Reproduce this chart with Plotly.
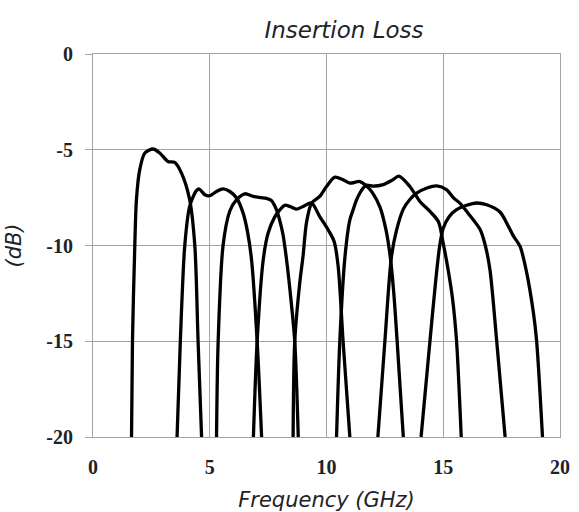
import plotly.graph_objects as go

# Filter 1..8 : frequency (GHz) and insertion loss (dB)
f1_x = [1.65, 1.69, 1.79, 1.86, 2.0, 2.22, 2.57, 2.86, 3.21, 3.5, 3.79, 4.14, 4.36, 4.5, 4.65]
f1_y = [-20, -15, -10, -7.6, -6.05, -5.17, -4.96, -5.17, -5.61, -5.66, -6.22, -7.61, -10, -15, -20]

f2_x = [3.6, 3.74, 3.93, 4.14, 4.43, 4.55, 4.79, 5.0, 5.29, 5.57, 5.86, 6.15, 6.43, 6.62, 6.79, 7.03, 7.22]
f2_y = [-20, -15, -10, -7.96, -7.13, -7.05, -7.35, -7.4, -7.18, -7.04, -7.18, -7.52, -8.31, -9.3, -10.75, -15, -20]

f3_x = [5.29, 5.36, 5.57, 5.86, 6.15, 6.5, 6.86, 7.2, 7.43, 7.64, 7.86, 8.0, 8.14, 8.29, 8.45, 8.64, 8.79]
f3_y = [-20, -15, -10, -8.2, -7.61, -7.3, -7.44, -7.5, -7.54, -7.65, -8.14, -8.7, -9.45, -10.75, -12.5, -15, -20]

f4_x = [6.87, 7.03, 7.29, 7.5, 7.79, 8.0, 8.21, 8.43, 8.71, 9.0, 9.36, 9.71, 10.07, 10.33, 10.5, 10.71, 11.0]
f4_y = [-20, -15, -10.75, -9.35, -8.49, -8.14, -7.9, -7.96, -8.1, -7.96, -7.78, -8.49, -9.18, -9.8, -11.1, -15, -20]

f5_x = [8.57, 8.64, 8.85, 9.0, 9.14, 9.36, 9.71, 10.0, 10.36, 10.71, 11.0, 11.43, 11.72, 12.0, 12.29, 12.55, 12.72, 12.87, 13.02, 13.29]
f5_y = [-20, -15, -12, -10.5, -8.83, -7.79, -7.44, -6.92, -6.43, -6.57, -6.74, -6.66, -6.9, -7.3, -8.0, -9.2, -10.5, -12.3, -14.9, -20]

f6_x = [10.43, 10.57, 10.79, 11.0, 11.14, 11.29, 11.57, 11.72, 12.0, 12.43, 12.8, 13.1, 13.57, 14.0, 14.43, 14.79, 15.0, 15.2, 15.4, 15.57, 15.77]
f6_y = [-20, -15, -10.6, -8.66, -8.14, -7.61, -7.0, -6.85, -6.9, -6.82, -6.6, -6.38, -6.92, -7.7, -8.22, -8.75, -9.9, -11.2, -12.8, -15, -20]

f7_x = [12.2, 12.5, 12.78, 13.0, 13.29, 13.57, 13.86, 14.3, 14.72, 15.15, 15.43, 15.72, 16.15, 16.58, 16.8, 17.0, 17.29, 17.65]
f7_y = [-20, -15, -10.6, -9.2, -8.1, -7.6, -7.27, -7.0, -6.89, -7.1, -7.5, -7.8, -8.45, -9.17, -10.0, -11.27, -15, -20]

f8_x = [14.05, 14.43, 14.68, 14.85, 15.0, 15.25, 15.57, 16.0, 16.43, 16.86, 17.43, 17.79, 18.0, 18.29, 18.57, 18.86, 19.0, 19.25]
f8_y = [-20, -15, -11.8, -10.0, -9.1, -8.5, -8.13, -7.9, -7.78, -7.87, -8.25, -9.0, -9.5, -10.05, -11.4, -13.5, -15, -20]

x_ticks = [0, 5, 10, 15, 20]
y_ticks = [0, -5, -10, -15, -20]

series = [(f1_x, f1_y), (f2_x, f2_y), (f3_x, f3_y), (f4_x, f4_y),
          (f5_x, f5_y), (f6_x, f6_y), (f7_x, f7_y), (f8_x, f8_y)]

GRID = "#a3a3ab"
TXT = "#1e2328"

fig = go.Figure()
for xs, ys in series:
    fig.add_trace(go.Scatter(x=xs, y=ys, mode="lines",
                             line=dict(color="black", width=3.3, shape="spline", smoothing=0.8),
                             showlegend=False, hoverinfo="skip"))

fig.update_layout(
    width=579, height=512,
    margin=dict(l=92.7, r=19, t=54.3, b=75.3),
    paper_bgcolor="white", plot_bgcolor="white",
    title=dict(text="Insertion Loss", x=344 / 579, xanchor="center", y=1 - 30 / 512, yanchor="middle",
               font=dict(family="DejaVu Sans", size=23, color=TXT, style="italic")),
    xaxis=dict(range=[0, 20], tickvals=x_ticks, ticktext=[str(v) for v in x_ticks],
               showgrid=True, gridcolor=GRID, gridwidth=1, zeroline=False,
               showline=True, linecolor=GRID, linewidth=1, mirror=True,
               ticks="", ticklabelstandoff=12, automargin=False,
               tickfont=dict(family="Liberation Serif", size=20, color=TXT, weight="bold"),
               title=dict(text="Frequency (GHz)", standoff=16,
                          font=dict(family="DejaVu Sans", size=21, color=TXT, style="italic"))),
    yaxis=dict(range=[-20, 0], tickvals=y_ticks, ticktext=[str(v) for v in y_ticks],
               showgrid=True, gridcolor=GRID, gridwidth=1, zeroline=False,
               showline=True, linecolor=GRID, linewidth=1, mirror=True,
               ticks="outside", ticklen=7, tickcolor=GRID, tickwidth=1, ticklabelstandoff=8,
               automargin=False,
               tickfont=dict(family="Liberation Serif", size=20, color=TXT, weight="bold"),
               title=dict(text="(dB)", standoff=18,
                          font=dict(family="DejaVu Sans", size=21, color=TXT, style="italic"))),
)

fig.write_html("out.html")
